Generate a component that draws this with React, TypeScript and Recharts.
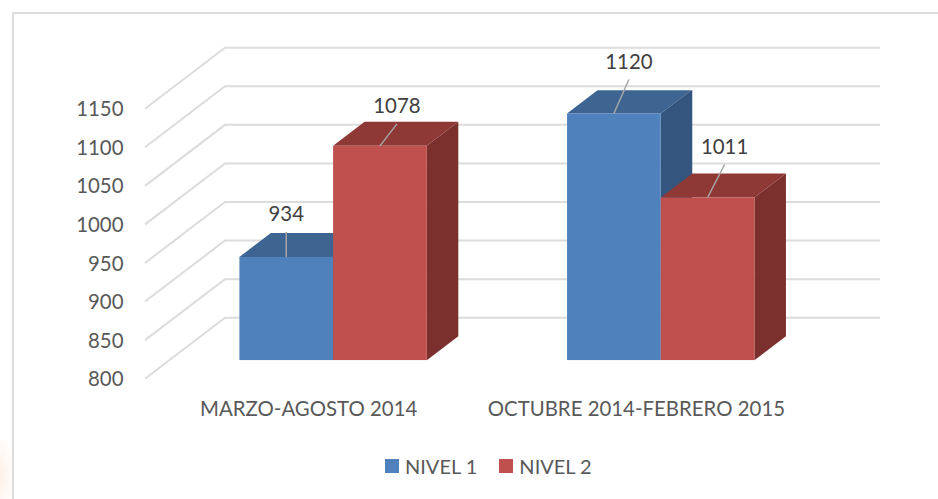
import React from "react";
import { BarChart, Bar, XAxis, YAxis, CartesianGrid, LabelList, Legend } from "recharts";

const categories = ["MARZO-AGOSTO 2014", "OCTUBRE 2014-FEBRERO 2015"];
const nivel1 = [934, 1120];
const nivel2 = [1078, 1011];
const yTicks = [800, 850, 900, 950, 1000, 1050, 1100, 1150];

const chartData = categories.map((name, i) => ({ name, nivel1: nivel1[i], nivel2: nivel2[i] }));

const FONT = "Lato, 'Open Sans', sans-serif";
const GRID = "#DCDCDC";
const AXIS_TEXT = "#595959";
const LABEL_TEXT = "#404040";
const FONT_SIZE = 20.4;
const DEPTH_X = 31.5;
const DEPTH_Y = 24;

const makeBox = (front: string, top: string, side: string) => (p: any) => {
  const { x, y, width, height } = p;
  const r = x + width;
  const b = y + height;
  return (
    <g>
      <polygon points={`${x},${y} ${x + DEPTH_X},${y - DEPTH_Y} ${r + DEPTH_X},${y - DEPTH_Y} ${r},${y}`} fill={top} />
      <polygon points={`${r},${y} ${r + DEPTH_X},${y - DEPTH_Y} ${r + DEPTH_X},${b - DEPTH_Y} ${r},${b}`} fill={side} />
      <rect x={x} y={y} width={width} height={height} fill={front} />
    </g>
  );
};

const makeLabel = (leaderDx: number[], leaderDy: number[]) => (p: any) => {
  const { x, y, width, value, index } = p;
  const cx = x + width / 2;
  const ex = cx + leaderDx[index];
  const ey = y - leaderDy[index];
  return (
    <g>
      {leaderDy[index] > 0 && <line x1={cx} y1={y} x2={ex} y2={ey} stroke="#A6A6A6" strokeWidth={1.5} />}
      <text x={ex} y={ey - 18.5} textAnchor="middle" dominantBaseline="central" fontFamily={FONT} fontSize={FONT_SIZE} fill={LABEL_TEXT}>
        {value}
      </text>
    </g>
  );
};

const gridLine = (p: any) => {
  const { y1, key } = p;
  return (
    <polyline
      key={key ?? y1}
      points={`145,${y1 + 18.4} 225,${y1 - 42.6} 880,${y1 - 42.6}`}
      fill="none"
      stroke={GRID}
      strokeWidth={2}
    />
  );
};

const YTick = (p: any) => (
  <text x={123.5} y={p.y + 18} textAnchor="end" dominantBaseline="central" fontFamily={FONT} fontSize={FONT_SIZE} fill={AXIS_TEXT}>
    {p.payload.value}
  </text>
);

const XTick = (p: any) => (
  <text x={p.x - 24.5} y={408} textAnchor="middle" dominantBaseline="central" fontFamily={FONT} fontSize={FONT_SIZE} fill={AXIS_TEXT}>
    {p.payload.value}
  </text>
);

const LegendContent = (p: any) => (
  <div style={{ display: "flex", fontFamily: FONT, fontSize: 20, color: AXIS_TEXT, lineHeight: "28px" }}>
    {(p.payload || []).map((it: any) => (
      <div key={it.value} style={{ display: "flex", alignItems: "center", marginRight: 22 }}>
        <span style={{ width: 14, height: 14, background: it.color, marginRight: 6, display: "block" }} />
        <span style={{ whiteSpace: "nowrap" }}>{it.value}</span>
      </div>
    ))}
  </div>
);

export default function App() {
  return (
    <div style={{ position: "absolute", left: 0, top: 0, width: 938, height: 499, background: "#fff", overflow: "hidden" }}>
      <div style={{ position: "absolute", left: 0, top: 440, width: 12, height: 59, background: "radial-gradient(ellipse at 0% 60%, #fef0e8 0%, #fff 90%)" }} />
      <div style={{ position: "absolute", left: 12, top: 12, width: 926, height: 487, borderLeft: `2px solid ${GRID}`, borderTop: `2px solid ${GRID}`, boxSizing: "border-box" }} />
      <div style={{ position: "absolute", left: 0, top: 0 }}>
        <BarChart
          width={938}
          height={499}
          data={chartData}
          barGap={0}
          barCategoryGap={0}
          barSize={93.7}
          margin={{ top: 90.3, right: 113.3, bottom: 108.7, left: 109.4 }}
        >
          <CartesianGrid vertical={false} horizontal={gridLine} />
          <XAxis dataKey="name" height={30} axisLine={false} tickLine={false} tick={XTick} interval={0} />
          <YAxis width={60} domain={[800, 1150]} ticks={yTicks} axisLine={false} tickLine={false} tick={YTick} allowDataOverflow />
          <Legend
            layout="horizontal"
            verticalAlign="middle"
            align="center"
            content={LegendContent}
            wrapperStyle={{ left: 385, top: 452, width: 300 }}
          />
          <Bar dataKey="nivel1" name="NIVEL 1" fill="#4F81BD" isAnimationActive={false} shape={makeBox("#4F81BD", "#3E6491", "#33557E")}>
            <LabelList dataKey="nivel1" content={makeLabel([0, 15], [25, 34])} />
          </Bar>
          <Bar dataKey="nivel2" name="NIVEL 2" fill="#C0504D" isAnimationActive={false} shape={makeBox("#C0504D", "#8F3937", "#7B302E")}>
            <LabelList dataKey="nivel2" content={makeLabel([17, 17], [22, 33])} />
          </Bar>
        </BarChart>
      </div>
    </div>
  );
}
